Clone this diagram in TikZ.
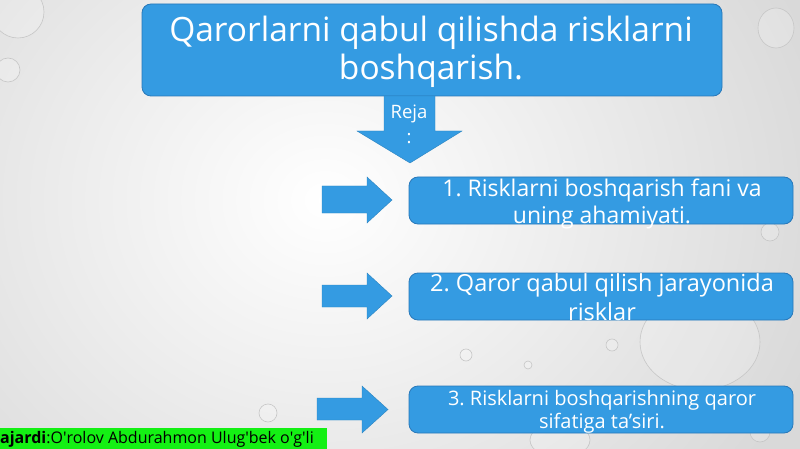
\documentclass[tikz,border=0pt]{standalone}
\usepackage{fontspec}
\setmainfont{Open Sans}
\definecolor{boxblue}{RGB}{52,155,226}
\definecolor{boxedge}{RGB}{40,120,185}
\definecolor{labgreen}{RGB}{20,240,20}
\tikzset{
  bluebox/.style={draw=boxedge, line width=0.8pt, fill=boxblue, rounded corners=9pt, inner sep=0pt},
  blockarrow/.style={fill=boxblue, draw=boxblue!85!black, line width=0.4pt},
  boxtext/.style={text=white, align=center, inner sep=0pt},
  drop/.style={draw=gray!45, line width=0.6pt, fill=white, fill opacity=0.2},
}
\begin{document}
\frenchspacing
\begin{tikzpicture}[x=1pt,y=-1pt]
\useasboundingbox (0,0) rectangle (800,449);
% background
\shade[inner color=white, outer color=gray!30] (-200,-250) rectangle (850,650);
% water drops (decorative)
\draw[drop] (18,12) circle (26);
\draw[drop] (8,70) circle (12);
\draw[drop] (188,62) circle (8);
\draw[drop] (776,28) ellipse (18 and 20);
\draw[drop] (770,232) circle (9);
\draw[drop] (700,342) ellipse (60 and 48);
\draw[drop] (612,345) circle (6);
\draw[drop] (466,355) circle (6);
\draw[drop] (528,365) circle (4);
\draw[drop] (424,410) circle (12);
\draw[drop] (268,413) circle (9);
\draw[drop] (560,440) ellipse (30 and 18);
\draw[drop] (760,432) circle (10);
% title
\node[bluebox, minimum width=580pt, minimum height=92pt] (title) at (432,50) {};
\node[boxtext, font=\fontsize{33.5}{38}\selectfont] (titletext) at (431,52) {Qarorlarni qabul qilishda risklarni\\boshqarish.};
% down arrow
\draw[blockarrow] (384,96) -- (435,96) -- (435,131) -- (462,131) -- (410,163) -- (357,131) -- (384,131) -- cycle;
\node[boxtext, font=\fontsize{18.5}{25}\selectfont] (reja) at (409,124) {Reja\\:};
% boxes
\node[bluebox, minimum width=384pt, minimum height=47pt] (b1) at (601,200.5) {};
\node[boxtext, font=\fontsize{23}{27}\selectfont] (t1) at (602,204) {1. Risklarni boshqarish fani va\\uning ahamiyati.};
\node[bluebox, minimum width=384pt, minimum height=47pt] (b2) at (601,296.5) {};
\node[boxtext, font=\fontsize{23.5}{29}\selectfont] (t2) at (602,297.5) {2. Qaror qabul qilish jarayonida\\risklar};
\node[bluebox, minimum width=384pt, minimum height=47pt] (b3) at (601,409.5) {};
\node[boxtext, font=\fontsize{20}{23}\selectfont] (t3) at (602,411.5) {3. Risklarni boshqarishning qaror\\sifatiga ta’siri.};
% right arrows
\draw[blockarrow] (322,186) -- (367,186) -- (367,177) -- (392,200) -- (367,223) -- (367,213) -- (322,213) -- cycle;
\draw[blockarrow] (322,285) -- (367,285) -- (367,273) -- (392,296) -- (367,319) -- (367,307) -- (322,307) -- cycle;
\draw[blockarrow] (317,398) -- (362,398) -- (362,386) -- (388,409.5) -- (362,433) -- (362,420) -- (317,420) -- cycle;
% author label
\fill[labgreen] (0,428) rectangle (327,449);
\node[anchor=west, inner sep=0pt, font=\fontsize{16}{18}\selectfont] (author) at (0,439) {\textbf{ajardi}:O\textquotesingle rolov Abdurahmon Ulug\textquotesingle bek o\textquotesingle g\textquotesingle li};
\end{tikzpicture}
\end{document}
